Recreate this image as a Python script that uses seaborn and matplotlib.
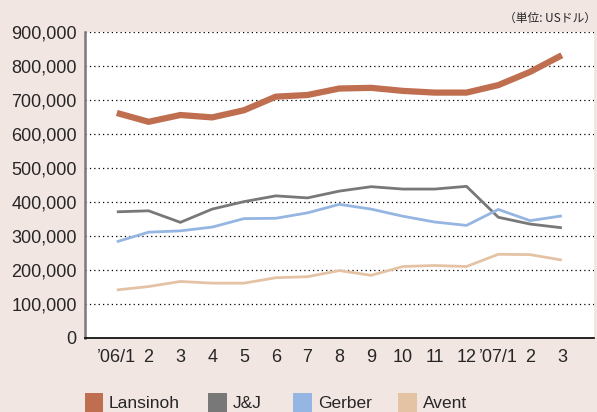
import pandas as pd
import matplotlib.pyplot as plt
import seaborn as sns
from matplotlib.patches import Rectangle

# Data (US dollars, monthly)
months = ["’06/1", "2", "3", "4", "5", "6", "7", "8", "9", "10", "11", "12", "’07/1", "2", "3"]
lansinoh = [662000, 636000, 656000, 649000, 670000, 710000, 715000, 734000, 736000, 727000, 722000, 722000, 744000, 783000, 832000]
jnj = [371000, 374000, 340000, 379000, 401000, 418000, 412000, 432000, 445000, 438000, 438000, 446000, 355000, 335000, 324000]
gerber = [283000, 311000, 315000, 326000, 351000, 352000, 368000, 393000, 379000, 358000, 341000, 331000, 378000, 345000, 359000]
avent = [141000, 151000, 166000, 161000, 161000, 177000, 180000, 198000, 184000, 210000, 213000, 210000, 246000, 245000, 229000]

brands = ["Lansinoh", "J&J", "Gerber", "Avent"]
colors = {"Lansinoh": "#bf6e50", "J&J": "#787878", "Gerber": "#95b5e2", "Avent": "#e4c3a5"}
widths = {"Lansinoh": 4.5, "J&J": 2.0, "Gerber": 2.0, "Avent": 2.0}

rows = []
for name, vals in zip(brands, [lansinoh, jnj, gerber, avent]):
    for i, v in enumerate(vals):
        rows.append({"idx": i, "value": v, "brand": name})
df = pd.DataFrame(rows)

sns.set_style("white")
plt.rcParams["font.family"] = ["Liberation Sans", "Noto Sans CJK JP", "DejaVu Sans"]

bg = "#f2e6e3"
fig = plt.figure(figsize=(5.97, 4.12), dpi=100, facecolor=bg)
ax = fig.add_axes([0.1424, 0.18, 0.852, 0.742])
ax.set_facecolor("white")

for name in brands:
    sns.lineplot(data=df[df["brand"] == name], x="idx", y="value", color=colors[name],
                 linewidth=widths[name], ax=ax, legend=False)
for line in ax.get_lines():
    line.set_solid_capstyle("butt")
    line.set_solid_joinstyle("miter")

ax.set_xlim(-1, 15)
ax.set_ylim(0, 900000)
ax.set_yticks(range(0, 900001, 100000))
ax.set_yticklabels([f"{v:,}" for v in range(0, 900001, 100000)], fontsize=13)
ax.set_xticks(range(len(months)))
ax.set_xticklabels(months, fontsize=13)
ax.tick_params(axis="y", length=0, pad=6)
ax.tick_params(axis="x", length=0, pad=8)
ax.set_xlabel("")
ax.set_ylabel("")

for v in range(100000, 900001, 100000):
    ax.axhline(v, color="black", linestyle=(0, (1, 2.5)), linewidth=0.9, zorder=0)

for s in ["top", "right"]:
    ax.spines[s].set_visible(False)
ax.spines["left"].set_color("#7a7a7a")
ax.spines["left"].set_linewidth(1.8)
ax.spines["bottom"].set_color("black")
ax.spines["bottom"].set_linewidth(1.2)

fig.text(0.998, 0.955, "（単位: USドル）", ha="right", va="center", fontsize=8.5,
         family=["Noto Sans CJK JP", "DejaVu Sans"])

# legend row at the bottom
W, H = 597, 412
patch_x = [85, 208, 293, 398]
text_x = [109, 233, 318, 423]
for name, px, tx in zip(brands, patch_x, text_x):
    fig.patches.append(Rectangle((px / W, 0), 18.5 / W, 19 / H, transform=fig.transFigure,
                                 facecolor=colors[name], edgecolor="none"))
    fig.text(tx / W, 1 - 403 / H, name, ha="left", va="center", fontsize=12.5)

fig.savefig("out.png", dpi=100, facecolor=bg)
